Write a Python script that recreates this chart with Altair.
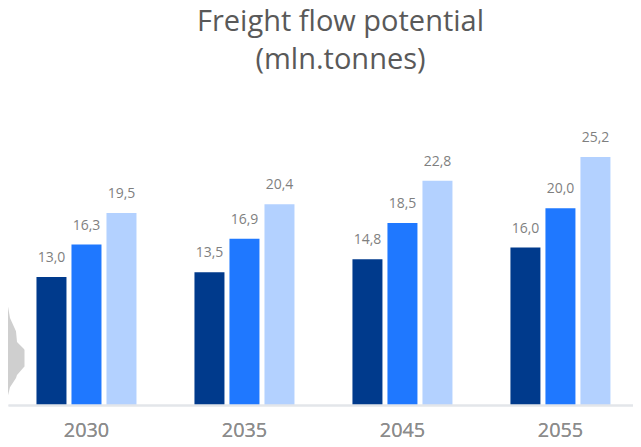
import altair as alt
import pandas as pd

years = ["2030", "2035", "2045", "2055"]
series = ["a", "b", "c"]
colors = ["#003a8c", "#1f78ff", "#b3d1ff"]
v_a = [13.0, 13.5, 14.8, 16.0]
v_b = [16.3, 16.9, 18.5, 20.0]
v_c = [19.5, 20.4, 22.8, 25.2]
title_lines = ["Freight flow potential", "(mln.tonnes)"]
blob_x = [0, 2, 8, 9, 16, 16.5]
blob_top = [10.0, 8.84, 7.5, 6.4, 5.7, 5.6]
blob_bottom = [1.0, 1.8, 2.74, 3.05, 3.86, 3.9]

rows = []
for i, y in enumerate(years):
    for s, vals in zip(series, [v_a, v_b, v_c]):
        rows.append({"year": y, "s": s, "v": vals[i], "label": f"{vals[i]:.1f}".replace(".", ",")})
df = pd.DataFrame(rows)
blob = pd.DataFrame({"bx": blob_x, "top": blob_top, "bottom": blob_bottom})

H = 325
DOMAIN_MAX = H / 9.84

x = alt.X("year:N", sort=years, title=None,
          scale=alt.Scale(paddingInner=0.367, paddingOuter=0.1615, align=0.558),
          axis=alt.Axis(orient="bottom", labelAngle=0, labelFont="Open Sans", labelFontSize=19.8, labelColor="#8c8c8c",
                        ticks=False, domainColor="#e3e6ea", domainWidth=2, labelPadding=15, zindex=1))
y = alt.Y("v:Q", title=None, scale=alt.Scale(domain=[0, DOMAIN_MAX], nice=False), axis=None)
xo = alt.XOffset("s:N", sort=series, scale=alt.Scale(paddingInner=0.143))

bars = alt.Chart(df).mark_bar().encode(
    x=x, xOffset=xo, y=y,
    color=alt.Color("s:N", sort=series, scale=alt.Scale(domain=series, range=colors), legend=None))
text = alt.Chart(df).mark_text(font="Open Sans", fontSize=14, color="#7f7f7f", baseline="bottom", dy=-12).encode(
    x=x, xOffset=xo, y=y, text="label:N")
shape = alt.Chart(blob).mark_area(color="#cfcfcf").encode(
    x=alt.X("bx:Q", title=None, axis=None, scale=alt.Scale(domain=[0, 625], nice=False)),
    y=alt.Y("top:Q", title=None, axis=None, scale=alt.Scale(domain=[0, DOMAIN_MAX], nice=False)),
    y2="bottom:Q")

chart = alt.layer(shape, bars, text).resolve_scale(x="independent").properties(
    width=625, height=H, padding=0, background="white",
    title=alt.TitleParams(title_lines, font="Open Sans", fontSize=29, fontWeight="normal", color="#595959",
                          anchor="middle", dx=20, dy=1, offset=6, lineHeight=38)
).configure_view(strokeWidth=0)
chart.save("out.html", embed_options={"renderer": "svg", "actions": False})
